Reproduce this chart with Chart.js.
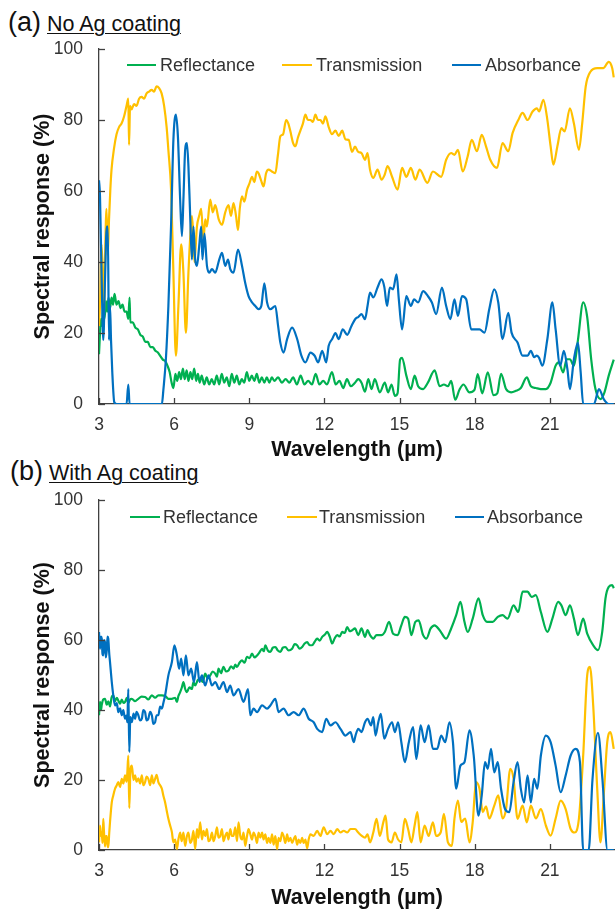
<!DOCTYPE html>
<html>
<head>
<meta charset="utf-8">
<script src="https://cdn.jsdelivr.net/npm/chart.js@4.4.1/dist/chart.umd.min.js"></script>
<style>
  body { margin: 0; width: 615px; height: 909px; overflow: hidden; background: #fff; position: relative; }
  .box { position: absolute; left: 0; width: 615px; height: 470px; }
  .lbl { position: absolute; font-family: "Liberation Sans", Arial, sans-serif; color: #111; white-space: nowrap; }
  .big { font-size: 27px; line-height: 27px; }
  .sub { font-size: 21.5px; line-height: 21.5px; text-decoration: underline; text-decoration-thickness: 1px; text-underline-offset: 2px; }
</style>
</head>
<body>
<div class="lbl big" style="left:8px;top:9px">(a)</div>
<div class="lbl sub" style="left:47px;top:14px">No Ag coating</div>
<div class="lbl big" style="left:10px;top:458px">(b)</div>
<div class="lbl sub" style="left:49px;top:463px">With Ag coating</div>

<div class="box" style="top:0px"><canvas id="chartA" width="615" height="470"></canvas></div>
<div class="box" style="top:452px"><canvas id="chartB" width="615" height="470"></canvas></div>

<script>
'use strict';

// Series names and tick labels
let seriesNames = ['Reflectance', 'Transmission', 'Absorbance'];
let yTicks = [0, 20, 40, 60, 80, 100];
let xTicks = [3, 6, 9, 12, 15, 18, 21];

// (a) No Ag coating - reflectance
let wlReflA = [
  3.0, 3.04, 3.08, 3.12, 3.17, 3.22, 3.28, 3.33, 3.38, 3.44,
  3.5, 3.56, 3.62, 3.7, 3.78, 3.86, 3.94, 4.02, 4.1, 4.17,
  4.22, 4.25, 4.35, 4.45, 4.55, 4.65, 4.75, 4.85, 4.95, 5.05,
  5.15, 5.25, 5.35, 5.45, 5.55, 5.65, 5.75, 5.82, 5.9, 5.97,
  6.05, 6.12, 6.2, 6.27, 6.35, 6.42, 6.5, 6.57, 6.65, 6.72,
  6.8, 6.88, 6.95, 7.02, 7.1, 7.2, 7.3, 7.4, 7.5, 7.6,
  7.7, 7.8, 7.9, 8.0, 8.1, 8.2, 8.3, 8.4, 8.5, 8.6,
  8.7, 8.8, 8.9, 9.0, 9.1, 9.2, 9.3, 9.4, 9.5, 9.6,
  9.7, 9.8, 9.9, 10.0, 10.15, 10.3, 10.45, 10.6, 10.75, 10.9,
  11.05, 11.2, 11.35, 11.5, 11.65, 11.8, 11.95, 12.1, 12.3, 12.45,
  12.6, 12.75, 12.9, 13.05, 13.22, 13.35, 13.48, 13.62, 13.75, 13.88,
  14.01, 14.21, 14.41, 14.54, 14.68, 14.81, 14.92, 15.02, 15.1, 15.27,
  15.45, 15.6, 15.74, 15.94, 16.13, 16.4, 16.6, 16.77, 16.93, 17.06,
  17.22, 17.39, 17.55, 17.79, 17.99, 18.12, 18.3, 18.52, 18.75, 18.9,
  19.05, 19.25, 19.45, 19.64, 19.84, 20.08, 20.24, 20.44, 20.64, 20.84,
  21.03, 21.23, 21.36, 21.53, 21.67, 21.8, 21.96, 22.12, 22.33, 22.49,
  22.65, 22.82, 23.02, 23.18, 23.35, 23.55
];
let reflA = [
  14, 20, 24, 22, 27, 24, 29, 26, 30, 27,
  30, 28, 31, 28, 29, 27, 28, 26, 26, 24,
  30, 23, 23, 21.5, 21, 19.5, 19, 17.5, 17.5, 16,
  16, 15, 14.5, 13.5, 12.5, 12, 10.5, 9, 6, 4.5,
  8.5, 6.5, 9, 7, 10, 7, 9.5, 6.5, 9, 7,
  10, 6.5, 8.5, 6, 8, 5.5, 7.5, 5.5, 7, 5.5,
  8, 5.5, 8.5, 6, 7.5, 5, 8.5, 6, 8, 5.5,
  7, 6, 9, 6.5, 8, 6.5, 8.5, 6, 7.5, 6,
  7.5, 6, 7.5, 6.5, 7.5, 6, 7, 6, 7.5, 5.5,
  8, 5.5, 6.5, 5.5, 8.5, 5.5, 6.5, 5.5, 9, 5.5,
  6.5, 4.5, 7, 5, 6, 7, 6, 3.5, 7, 4.2,
  7, 3.3, 6, 3.3, 5.5, 2.3, 3, 12.5, 13, 8,
  4.2, 8, 5, 4.2, 6, 9.5, 5, 5.5, 5, 6.5,
  1.2, 4, 5.5, 3.3, 4, 8.4, 3, 8.9, 2.5, 3,
  8.5, 4.2, 3.3, 3.7, 4.5, 7.5, 5, 4.5, 4.2, 4.2,
  6, 10.8, 11.7, 8.9, 12.6, 12.6, 10.8, 18, 28.6, 24.5,
  12.6, 4.2, 1.4, 3.3, 8, 12.5
];

// (a) No Ag coating - transmission
let wlTransA = [
  3.0, 3.05, 3.1, 3.15, 3.2, 3.25, 3.3, 3.35, 3.4, 3.45,
  3.5, 3.6, 3.7, 3.8, 3.9, 4.0, 4.1, 4.17, 4.2, 4.24,
  4.3, 4.4, 4.5, 4.6, 4.7, 4.8, 4.9, 5.0, 5.1, 5.2,
  5.3, 5.4, 5.5, 5.6, 5.7, 5.77, 5.88, 5.97, 6.07, 6.17,
  6.28, 6.37, 6.47, 6.57, 6.65, 6.71, 6.76, 6.81, 6.91, 7.0,
  7.08, 7.17, 7.24, 7.31, 7.44, 7.54, 7.64, 7.78, 7.91, 8.04,
  8.17, 8.27, 8.37, 8.47, 8.55, 8.62, 8.71, 8.8, 8.91, 9.0,
  9.11, 9.2, 9.3, 9.37, 9.47, 9.57, 9.67, 9.77, 9.9, 10.04,
  10.14, 10.24, 10.35, 10.47, 10.56, 10.64, 10.75, 10.84, 10.94, 11.04,
  11.14, 11.24, 11.34, 11.44, 11.54, 11.64, 11.74, 11.84, 11.94, 12.04,
  12.17, 12.3, 12.44, 12.57, 12.71, 12.84, 12.97, 13.1, 13.22, 13.35,
  13.48, 13.62, 13.72, 13.82, 13.95, 14.12, 14.28, 14.4, 14.52, 14.7,
  14.92, 15.1, 15.27, 15.45, 15.63, 15.8, 16.11, 16.33, 16.66, 16.86,
  17.06, 17.19, 17.33, 17.52, 17.72, 17.88, 18.09, 18.28, 18.45, 18.62,
  18.89, 19.11, 19.34, 19.51, 19.74, 19.91, 20.11, 20.31, 20.48, 20.57,
  20.74, 20.88, 21.03, 21.14, 21.3, 21.46, 21.59, 21.8, 21.96, 22.16,
  22.29, 22.43, 22.62, 22.89, 23.13, 23.35, 23.49, 23.55
];
let transA = [
  22, 30, 45, 38, 24, 44, 55, 42, 52, 60,
  66, 72, 76, 78, 79, 81, 84, 86, 73, 84,
  83, 84.5, 84, 86, 86.5, 86, 87.5, 88, 88.5, 88,
  89.5, 89, 87.5, 84, 78, 71.5, 60, 37, 13.6, 27.6,
  45, 37, 20, 37, 48, 53, 48, 40, 50, 53,
  55, 46, 52, 50, 57.6, 54, 56, 52, 50.5, 54,
  56, 53, 56.6, 53, 49, 55, 58.5, 57, 60.4, 62,
  64, 62.5, 65.5, 65, 63, 61.3, 65, 66, 65.5, 65,
  70, 75.4, 76, 80, 79, 76.8, 73.5, 72.6, 75, 77,
  79, 81.5, 80, 80, 79.5, 81.5, 80, 80, 79, 81,
  78, 76, 77, 75.5, 77, 74.5, 74.4, 71, 72.5, 71,
  70.7, 68.8, 70.7, 66, 63.7, 66, 63.2, 64.5, 67, 64,
  60.4, 66.5, 64, 66.5, 63.2, 66, 62.3, 65.5, 64, 68.8,
  70.7, 70.2, 71.6, 65.5, 69.8, 74.4, 71.2, 75.8, 72.6, 68.8,
  66.5, 73.5, 71.2, 76.3, 80, 82, 80, 82.4, 83.3, 82.4,
  85.7, 81, 72.6, 67.4, 72.6, 77.7, 76.8, 83.3, 79, 71.6,
  79, 89.4, 93.6, 94.6, 94.6, 96.4, 94.6, 92
];

// (a) No Ag coating - absorbance
let wlAbsA = [
  3.0, 3.04, 3.11, 3.17, 3.24, 3.31, 3.35, 3.4, 3.44, 3.48,
  3.53, 3.61, 3.7, 4.1, 4.17, 4.22, 5.51, 5.57, 5.67, 5.77,
  5.88, 5.97, 6.07, 6.15, 6.24, 6.31, 6.37, 6.44, 6.51, 6.57,
  6.64, 6.71, 6.77, 6.84, 6.91, 7.0, 7.08, 7.13, 7.21, 7.31,
  7.4, 7.51, 7.64, 7.8, 7.91, 8.04, 8.15, 8.24, 8.37, 8.55,
  8.71, 8.84, 8.97, 9.11, 9.24, 9.37, 9.48, 9.6, 9.71, 9.84,
  10.04, 10.15, 10.24, 10.37, 10.51, 10.71, 10.91, 11.08, 11.24, 11.44,
  11.61, 11.75, 11.91, 12.07, 12.17, 12.31, 12.44, 12.57, 12.73, 12.91,
  13.08, 13.24, 13.35, 13.48, 13.62, 13.72, 13.82, 13.95, 14.12, 14.28,
  14.39, 14.5, 14.61, 14.74, 14.88, 14.97, 15.1, 15.27, 15.45, 15.58,
  15.74, 15.94, 16.13, 16.29, 16.46, 16.69, 16.86, 17.03, 17.19, 17.33,
  17.49, 17.66, 17.86, 18.01, 18.19, 18.39, 18.58, 18.78, 18.94, 19.11,
  19.34, 19.47, 19.71, 19.91, 20.11, 20.24, 20.37, 20.48, 20.57, 20.7,
  20.9, 21.1, 21.23, 21.41, 21.56, 21.7, 21.8, 21.96, 22.12, 22.23,
  22.33, 22.76, 22.96, 23.15, 23.35, 23.55
];
let absA = [
  63, 58.5, 34, 18, 35, 50, 50, 18, 27.6, 18,
  9, 0.5, 0, 0, 5.5, 0, 0, 4, 12.6, 27.6,
  51, 74.4, 81.5, 75.4, 57.6, 47.3, 57.6, 71.6, 73.5, 67,
  53, 40.7, 50, 40.7, 38.9, 44.5, 50, 40.7, 48, 38.9,
  37, 38, 37, 40.7, 42.6, 38.9, 40.7, 38, 37, 43.5,
  38.9, 34, 30.4, 28.6, 27.6, 26.7, 27.6, 34, 28.6, 26.7,
  27.6, 22, 17.3, 14.5, 18.3, 21.5, 18.3, 13.6, 11.7, 14.5,
  13.6, 11.7, 15, 11.7, 16.4, 18.3, 20, 18.3, 21, 19.5,
  22, 24, 24.5, 25.3, 23.9, 27.6, 31.4, 30, 32.8, 35.1,
  33, 27.6, 32.8, 32.3, 36.5, 29.5, 21, 30.4, 27.6, 29.5,
  28.6, 31.8, 30.4, 28.6, 25.3, 32.8, 27.6, 23.9, 29.5, 24.8,
  30.4, 29.5, 21, 21, 21, 20.1, 26.7, 32.3, 28.6, 18.3,
  25.7, 20.1, 17.3, 13.6, 13.6, 15, 13.2, 13.6, 13, 10.8,
  18.3, 28.6, 21, 10.8, 15, 9.8, 4.2, 12.6, 17.3, 8.9,
  0, 0, 4.2, 1.4, 0, 0
];

// (b) With Ag coating - reflectance
let wlReflB = [
  3.0, 3.04, 3.08, 3.11, 3.17, 3.24, 3.31, 3.37, 3.44, 3.5,
  3.57, 3.64, 3.71, 3.77, 3.84, 3.91, 3.98, 4.04, 4.11, 4.17,
  4.24, 4.31, 4.44, 4.57, 4.7, 4.84, 4.97, 5.11, 5.24, 5.37,
  5.51, 5.64, 5.77, 5.91, 6.04, 6.11, 6.17, 6.24, 6.31, 6.37,
  6.44, 6.51, 6.61, 6.71, 6.77, 6.84, 6.94, 7.04, 7.14, 7.24,
  7.34, 7.44, 7.54, 7.64, 7.71, 7.77, 7.87, 7.97, 8.07, 8.17,
  8.27, 8.37, 8.44, 8.51, 8.61, 8.71, 8.81, 8.91, 9.01, 9.11,
  9.21, 9.31, 9.41, 9.51, 9.58, 9.64, 9.74, 9.84, 9.94, 10.04,
  10.14, 10.24, 10.34, 10.44, 10.57, 10.71, 10.81, 10.91, 11.01, 11.11,
  11.21, 11.31, 11.41, 11.51, 11.61, 11.71, 11.81, 11.91, 12.01, 12.11,
  12.21, 12.31, 12.41, 12.51, 12.61, 12.71, 12.81, 12.91, 13.01, 13.11,
  13.22, 13.35, 13.48, 13.62, 13.72, 13.82, 13.95, 14.08, 14.28, 14.41,
  14.58, 14.74, 14.92, 15.07, 15.21, 15.34, 15.47, 15.63, 15.76, 15.94,
  16.07, 16.24, 16.4, 16.6, 16.86, 17.06, 17.26, 17.43, 17.59, 17.72,
  17.92, 18.15, 18.32, 18.49, 18.72, 18.92, 19.11, 19.31, 19.55, 19.74,
  19.91, 20.11, 20.27, 20.44, 20.64, 20.9, 21.1, 21.33, 21.46, 21.63,
  21.8, 21.96, 22.12, 22.33, 22.49, 22.73, 22.92, 23.09, 23.22, 23.35,
  23.49, 23.55
];
let reflB = [
  38.5, 42.3, 40, 41.5, 43, 43.2, 41.5, 42.5, 41, 43.5,
  44.2, 42.5, 43.5, 42.7, 41.8, 43, 42, 42.3, 43.5, 42,
  43, 43.2, 42.5, 43.2, 43.8, 43.7, 43, 44.2, 43.5, 44.2,
  44.2, 44, 43.2, 43.2, 43.5, 42.3, 44, 45.1, 46.5, 48,
  46, 45.1, 46.5, 46, 48, 47, 48.5, 49, 48, 50.4,
  49, 49.9, 51, 50.4, 49.5, 51.8, 50.5, 52.3, 51, 51.3,
  52.5, 51.8, 53, 52.3, 53.5, 54.2, 53.5, 55.2, 54.8, 56.1,
  55, 55.6, 56.5, 57.5, 56.8, 58.5, 57, 56.6, 57.8, 58,
  57, 56.6, 57.8, 58, 57, 57.5, 58.8, 58.5, 57.5, 58,
  59, 59.4, 58.5, 58.5, 59.5, 60.4, 59.8, 60.9, 61.5, 62.3,
  61, 59, 60.5, 61.4, 61, 62.3, 62, 63.7, 62.5, 62.8,
  63.3, 61.4, 63.3, 60.9, 62.8, 61.4, 60.4, 61.4, 61.4, 62.3,
  65.2, 61.8, 61.4, 64.2, 66.6, 66.1, 61.4, 65.2, 65.6, 61.4,
  60.4, 63.3, 64.2, 62.8, 60.4, 63.3, 67.1, 70.9, 65.2, 62.3,
  66.1, 71.9, 67.1, 65.2, 65.2, 66.6, 67.1, 66.1, 69.9, 68,
  73.8, 73.8, 72.3, 72.8, 68, 62.3, 66.1, 70.9, 69.9, 67.1,
  69.9, 66.1, 61.4, 66.1, 61.8, 58.5, 57.1, 62.3, 71.9, 75.2,
  75.7, 74.8
];

// (b) With Ag coating - transmission
let wlTransB = [
  3.0, 3.04, 3.08, 3.11, 3.14, 3.17, 3.2, 3.24, 3.27, 3.31,
  3.34, 3.37, 3.41, 3.44, 3.51, 3.57, 3.64, 3.71, 3.77, 3.84,
  3.91, 3.97, 4.04, 4.1, 4.13, 4.17, 4.21, 4.25, 4.31, 4.38,
  4.44, 4.5, 4.57, 4.64, 4.71, 4.77, 4.84, 4.9, 4.97, 5.04,
  5.11, 5.17, 5.24, 5.3, 5.37, 5.44, 5.51, 5.57, 5.64, 5.71,
  5.77, 5.84, 5.91, 5.97, 6.04, 6.11, 6.17, 6.24, 6.3, 6.37,
  6.44, 6.51, 6.57, 6.64, 6.71, 6.77, 6.84, 6.91, 6.97, 7.04,
  7.11, 7.17, 7.24, 7.31, 7.37, 7.44, 7.51, 7.57, 7.64, 7.71,
  7.77, 7.84, 7.91, 7.97, 8.04, 8.11, 8.17, 8.24, 8.31, 8.37,
  8.44, 8.51, 8.57, 8.64, 8.71, 8.77, 8.84, 8.91, 8.97, 9.04,
  9.11, 9.17, 9.24, 9.31, 9.37, 9.44, 9.51, 9.57, 9.64, 9.71,
  9.77, 9.84, 9.91, 9.97, 10.04, 10.11, 10.17, 10.24, 10.31, 10.37,
  10.44, 10.51, 10.57, 10.64, 10.71, 10.77, 10.84, 10.91, 10.97, 11.04,
  11.11, 11.17, 11.24, 11.31, 11.37, 11.44, 11.57, 11.71, 11.84, 11.97,
  12.11, 12.24, 12.37, 12.51, 12.64, 12.77, 12.91, 13.04, 13.22, 13.35,
  13.48, 13.62, 13.72, 13.82, 13.95, 14.08, 14.21, 14.35, 14.44, 14.54,
  14.68, 14.81, 14.94, 15.07, 15.21, 15.34, 15.47, 15.6, 15.71, 15.84,
  16.0, 16.16, 16.33, 16.46, 16.64, 16.77, 16.93, 17.09, 17.19, 17.33,
  17.46, 17.62, 17.79, 17.92, 18.05, 18.19, 18.32, 18.45, 18.58, 18.78,
  18.94, 19.11, 19.25, 19.42, 19.55, 19.71, 19.91, 20.08, 20.24, 20.44,
  20.64, 20.84, 21.03, 21.23, 21.43, 21.63, 21.83, 21.99, 22.16, 22.33,
  22.49, 22.6, 22.73, 22.89, 23.02, 23.15, 23.29, 23.42, 23.55
];
let transB = [
  2.2, 7, 4, 5, 2, 8.9, 5, 1, 4, 4,
  1.5, 0.8, 5, 8, 13.6, 15.6, 17.5, 18.5, 19.4, 18,
  20.3, 19, 21.3, 19.5, 22, 27, 12, 22, 24.1, 20,
  21.3, 19.5, 20.5, 19, 21.3, 18.5, 19.4, 21, 20.3, 18.5,
  21.3, 19, 20.3, 21.5, 19.4, 18.5, 17.5, 15.5, 13.6, 11,
  8.9, 7, 5.1, 2.2, 3, 0.3, 3, 5, 2.5, 5,
  1.2, 4, 5, 2, 3, 5.5, 0.3, 6, 3.5, 7.9,
  3, 5.5, 4, 6, 2.5, 3, 5, 2.5, 4, 6.5,
  3.5, 4, 6, 2.5, 4, 5, 3, 6, 4, 4,
  6.5, 2.5, 7.9, 4, 3, 5, 1.2, 4, 6, 4.5,
  3, 5, 4, 2, 5, 3.5, 5, 3, 4.5, 2,
  3.5, 2, 4.5, 1.5, 4, 0.3, 3.5, 2.5, 5, 4,
  2, 4.5, 2.5, 3.5, 2, 3, 4, 1.5, 3, 2,
  3.5, 2, 3, 0.5, 3, 4.5, 4, 5.5, 4, 6.5,
  4.5, 5.5, 4.5, 6, 5, 5.5, 5, 6, 6, 5,
  4.1, 3.5, 4.5, 2.2, 5, 8.9, 4, 7.9, 9.8, 3,
  2.2, 5, 3, 2.2, 8.9, 6, 2.2, 7, 10.8, 2.2,
  7, 4, 7.9, 4, 5, 10.3, 2.2, 1.2, 8.9, 14.1,
  8, 9, 2.2, 8, 19.4, 17.5, 10.8, 12.5, 9, 12.7,
  15.6, 9, 11.7, 23.2, 20.3, 8.9, 12.7, 7.9, 12.7, 9,
  11.7, 7, 4.1, 9, 14.1, 11.7, 6, 5, 9, 27,
  49.9, 52.3, 41.3, 17.5, 2.2, 15.6, 30.8, 33.7, 28.9
];

// (b) With Ag coating - absorbance
let wlAbsB = [
  3.0, 3.04, 3.08, 3.11, 3.14, 3.17, 3.2, 3.24, 3.27, 3.31,
  3.34, 3.37, 3.41, 3.44, 3.51, 3.57, 3.64, 3.71, 3.77, 3.84,
  3.91, 3.97, 4.04, 4.1, 4.13, 4.17, 4.21, 4.25, 4.31, 4.38,
  4.44, 4.5, 4.57, 4.64, 4.71, 4.77, 4.84, 4.9, 4.97, 5.04,
  5.11, 5.17, 5.24, 5.3, 5.37, 5.44, 5.51, 5.57, 5.64, 5.77,
  5.91, 6.01, 6.11, 6.2, 6.28, 6.37, 6.47, 6.57, 6.68, 6.79,
  6.91, 7.01, 7.11, 7.24, 7.37, 7.51, 7.64, 7.8, 7.97, 8.11,
  8.24, 8.37, 8.57, 8.77, 8.95, 9.04, 9.17, 9.31, 9.51, 9.71,
  9.84, 10.04, 10.17, 10.37, 10.57, 10.77, 10.97, 11.17, 11.37, 11.57,
  11.71, 11.91, 12.07, 12.24, 12.44, 12.64, 12.84, 13.04, 13.17, 13.24,
  13.35, 13.48, 13.62, 13.72, 13.86, 13.95, 14.04, 14.15, 14.25, 14.39,
  14.54, 14.7, 14.81, 14.94, 15.07, 15.21, 15.37, 15.54, 15.67, 15.84,
  16.0, 16.16, 16.33, 16.5, 16.66, 16.82, 16.99, 17.13, 17.26, 17.43,
  17.59, 17.79, 17.96, 18.15, 18.28, 18.41, 18.52, 18.65, 18.78, 18.92,
  19.05, 19.21, 19.38, 19.55, 19.71, 19.84, 19.97, 20.11, 20.24, 20.37,
  20.5, 20.64, 20.84, 21.03, 21.23, 21.43, 21.63, 21.83, 22.03, 22.2,
  22.33, 22.55, 22.7, 22.92, 23.1, 23.3, 23.55
];
let absB = [
  62.3, 57.5, 61, 60.4, 56, 55.6, 60, 59.4, 55, 57,
  61, 60.4, 56, 53.7, 48, 44.2, 41.3, 42, 39.4, 40.5,
  38.5, 40, 37.5, 38.5, 36.5, 46, 28, 38, 36.5, 39,
  37.5, 39.5, 38.5, 37, 37.5, 40, 39.4, 37, 37.5, 39.5,
  38.5, 36, 36.5, 38.5, 38.5, 41, 40.4, 42, 44.2, 49.9,
  53.7, 58.5, 55.6, 51.8, 54.7, 49.9, 55.6, 49.9, 51.8, 48,
  53.7, 48, 49.9, 47, 49.9, 47, 48, 46, 48, 45.1,
  47, 44.2, 46, 42.3, 46, 38.5, 40.4, 39.4, 41.3, 40.4,
  41.3, 43.2, 39.4, 40.4, 38.5, 39.4, 38.5, 40.4, 37.5, 36.5,
  34.6, 33.7, 37.5, 35.6, 36.5, 34.6, 32.7, 33.7, 30.8, 32.7,
  34.6, 33.7, 36.5, 37.5, 35.6, 38, 32.7, 36.5, 38.9, 31.8,
  34.6, 36.5, 33.7, 36.5, 30.8, 25.1, 30.8, 35.1, 26, 35.6,
  30.8, 35.6, 28.9, 28.9, 32.7, 30.8, 36.5, 30.8, 17.5, 24.1,
  25.1, 34.2, 27, 9.8, 15.6, 25.1, 23.2, 28.9, 22.2, 25.1,
  17.5, 11.7, 10.8, 19.4, 25.1, 17.5, 13.6, 21.3, 13.6, 20.3,
  17.5, 27, 32.7, 30.8, 24.1, 16.5, 21.3, 27, 28.9, 25.1,
  0, 0, 20, 33.5, 20, 0, 0
];

// Colours
let green = '#00B050';
let gold = '#FFC000';
let blue = '#0070C0';
let axisColor = '#404040';
let textColor = '#333333';
let fontFamily = '"Liberation Sans", Arial, sans-serif';

function toPoints(xs, ys) {
  return xs.map(function (x, i) { return { x: x, y: ys[i] }; });
}

function makeDataset(label, xs, ys, color, order) {
  return {
    label: label,
    data: toPoints(xs, ys),
    borderColor: color,
    backgroundColor: color,
    borderWidth: 2.2,
    pointRadius: 0,
    cubicInterpolationMode: 'monotone',
    order: order
  };
}

// Inward tick marks plus a line legend drawn inside the plot
let panelDecor = {
  id: 'panelDecor',
  afterDraw: function (chart, args, opts) {
    let ctx = chart.ctx;
    let area = chart.chartArea;
    let xs = chart.scales.x;
    let ys = chart.scales.y;
    ctx.save();
    ctx.strokeStyle = axisColor;
    ctx.lineWidth = 1.3;
    xTicks.forEach(function (v) {
      let px = Math.round(xs.getPixelForValue(v)) + 0.5;
      ctx.beginPath();
      ctx.moveTo(px, area.bottom);
      ctx.lineTo(px, area.bottom - 6);
      ctx.stroke();
    });
    yTicks.forEach(function (v) {
      let py = Math.round(ys.getPixelForValue(v)) + 0.5;
      ctx.beginPath();
      ctx.moveTo(area.left, py);
      ctx.lineTo(area.left + 6, py);
      ctx.stroke();
    });

    ctx.font = '18px ' + fontFamily;
    ctx.textBaseline = 'middle';
    ctx.textAlign = 'left';
    opts.items.forEach(function (it, i) {
      let ds = chart.data.datasets[i];
      ctx.strokeStyle = ds.borderColor;
      ctx.lineWidth = 2;
      ctx.beginPath();
      ctx.moveTo(it[0], opts.y);
      ctx.lineTo(it[1], opts.y);
      ctx.stroke();
      ctx.fillStyle = textColor;
      ctx.fillText(ds.label, it[2], opts.y + 1);
    });
    ctx.restore();
  }
};

function makeChart(canvasId, datasets, layoutTop, xAxisHeight, xTitlePad, legendItems) {
  let ctx = document.getElementById(canvasId).getContext('2d');
  return new Chart(ctx, {
    type: 'line',
    data: { datasets: datasets },
    plugins: [panelDecor],
    options: {
      responsive: false,
      animation: false,
      layout: { padding: { top: layoutTop, left: 0, right: 0, bottom: 0 } },
      scales: {
        x: {
          type: 'linear',
          min: 3,
          max: 23.6,
          afterFit: function (scale) { scale.height = xAxisHeight; },
          afterBuildTicks: function (scale) {
            scale.ticks = xTicks.map(function (v) { return { value: v }; });
          },
          ticks: {
            autoSkip: false,
            maxRotation: 0,
            padding: 11,
            color: textColor,
            font: { family: fontFamily, size: 17.5 }
          },
          grid: { display: false, drawTicks: false },
          border: { display: true, color: axisColor, width: 1.3 },
          title: {
            display: true,
            text: 'Wavelength (µm)',
            color: '#111',
            font: { family: fontFamily, size: 21.5, weight: 'bold' },
            padding: { top: 0, bottom: xTitlePad }
          }
        },
        y: {
          min: 0,
          max: 100,
          afterFit: function (scale) { scale.width = 99; },
          afterBuildTicks: function (scale) {
            scale.ticks = yTicks.map(function (v) { return { value: v }; });
          },
          ticks: {
            padding: 16,
            color: textColor,
            font: { family: fontFamily, size: 17.5 }
          },
          grid: { display: false, drawTicks: false },
          border: { display: true, color: axisColor, width: 1.3 },
          title: {
            display: true,
            text: 'Spectral response (%)',
            color: '#111',
            font: { family: fontFamily, size: 21.5, weight: 'bold' },
            padding: { top: 30, bottom: 0 }
          }
        }
      },
      plugins: {
        legend: { display: false },
        tooltip: { enabled: false },
        panelDecor: { y: 65, items: legendItems }
      }
    }
  });
}

makeChart('chartA', [
  makeDataset(seriesNames[0], wlReflA, reflA, green, 3),
  makeDataset(seriesNames[1], wlTransA, transA, gold, 2),
  makeDataset(seriesNames[2], wlAbsA, absA, blue, 1)
], 49, 66, 7, [[127, 156, 160], [282, 312, 316], [452, 481, 485]]);

makeChart('chartB', [
  makeDataset(seriesNames[0], wlReflB, reflB, green, 3),
  makeDataset(seriesNames[1], wlTransB, transB, gold, 2),
  makeDataset(seriesNames[2], wlAbsB, absB, blue, 1)
], 48, 72, 11, [[130, 160, 163], [287, 317, 319], [455, 484, 487]]);
</script>
</body>
</html>
